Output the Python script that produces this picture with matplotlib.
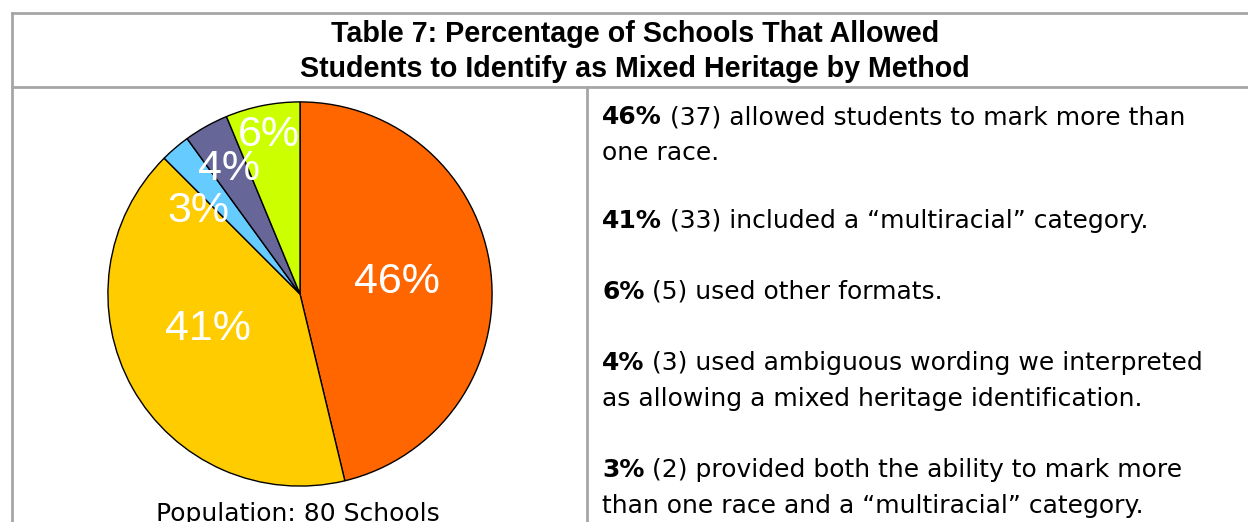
import matplotlib
matplotlib.use("Agg")
import matplotlib.pyplot as plt

plt.rcParams['font.family'] = ['Liberation Sans', 'DejaVu Sans']

# data
methods = ['mark more than one race', 'multiracial category', 'both',
           'ambiguous wording', 'other formats']
counts = [37, 33, 2, 3, 5]
pct_labels = ['46%', '41%', '3%', '4%', '6%']
colors = ['#FF6600', '#FFCC00', '#66CCFF', '#666699', '#CCFF00']

title_lines = ['Table 7: Percentage of Schools That Allowed',
               'Students to Identify as Mixed Heritage by Method']
notes_bold = ['46%', '41%', '6%', '4%', '3%']
notes_rest = [' (37) allowed students to mark more than\none race.',
              ' (33) included a \u201cmultiracial\u201d category.',
              ' (5) used other formats.',
              ' (3) used ambiguous wording we interpreted\nas allowing a mixed heritage identification.',
              ' (2) provided both the ability to mark more\nthan one race and a \u201cmultiracial\u201d category.']
population = 'Population: 80 Schools'

W, H = 1248, 522
fig = plt.figure(figsize=(W / 100, H / 100), dpi=100)

# page axes in pixel units, y down
pg = fig.add_axes([0, 0, 1, 1])
pg.set_xlim(0, W)
pg.set_ylim(H, 0)
pg.axis('off')

grey = '#A6A6A6'
pg.plot([12, 1260], [13, 13], color=grey, lw=2)
pg.plot([12, 12], [13, H + 5], color=grey, lw=2)
pg.plot([12, 1260], [87, 87], color=grey, lw=2)
pg.plot([587, 587], [87, H + 5], color=grey, lw=2)

for i, line in enumerate(title_lines):
    pg.text(635, 34 + 35 * i, line, ha='center', va='center',
            fontsize=20.6, fontweight='bold')

body = 'DejaVu Sans'
bsize = 18

# right side notes
y_starts = [124, 228, 299, 370, 477]
for b, r, y in zip(notes_bold, notes_rest, y_starts):
    bt = pg.text(602, y, b, ha='left', va='baseline', fontsize=bsize,
                 fontweight='bold', family=body)
    first, *more = r.split('\n')
    pg.annotate(first, xy=(1, 0), xycoords=bt, ha='left', va='bottom',
                fontsize=bsize, family=body)
    for k, ln in enumerate(more):
        pg.text(602, y + 36 * (k + 1), ln, ha='left', va='baseline',
                fontsize=bsize, family=body)

pg.text(298, 521, population, ha='center', va='baseline', fontsize=bsize,
        family=body)

# pie
cx, cy, r = 300, 294, 194
pa = fig.add_axes([(cx - r) / W, (H - cy - r) / H, 2 * r / W, 2 * r / H])
wedges, _ = pa.pie(counts, colors=colors, startangle=90, counterclock=False,
                   radius=1, wedgeprops=dict(edgecolor='black', linewidth=1))
pa.set_xlim(-1.01, 1.01)
pa.set_ylim(-1.01, 1.01)
pa.set_aspect('equal')

label_xy = [(0.505, 0.06), (-0.48, -0.18), (-0.53, 0.43), (-0.37, 0.65),
            (-0.16, 0.83)]
for lab, (x, y) in zip(pct_labels, label_xy):
    pa.text(x, y, lab, ha='center', va='center', color='white', fontsize=31)

fig.savefig('out.png', dpi=100)
